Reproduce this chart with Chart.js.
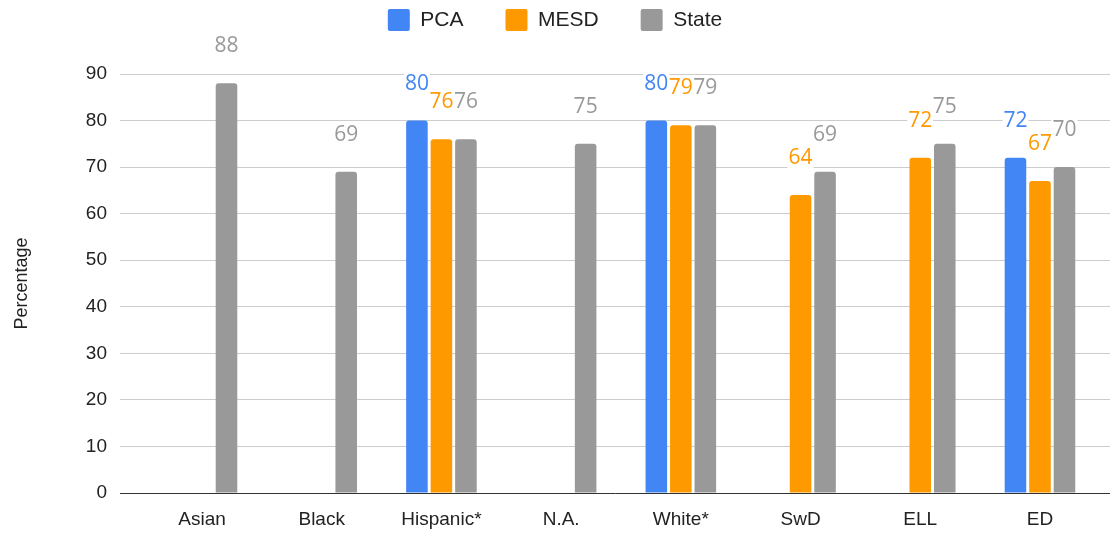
<!DOCTYPE html>
<html>
<head>
<meta charset="utf-8">
<script src="https://cdn.jsdelivr.net/npm/chart.js@4/dist/chart.umd.min.js"></script>
<style>
  html, body { margin: 0; padding: 0; background: #ffffff; }
  #wrap { width: 1110px; height: 533px; }
</style>
</head>
<body>
<div id="wrap"><canvas id="c" width="1110" height="533"></canvas></div>
<script>
// Student groups along the x axis
const categories = ['Asian', 'Black', 'Hispanic*', 'N.A.', 'White*', 'SwD', 'ELL', 'ED'];

// Percentages per group (null = not reported)
const pcaValues   = [null, null, 80, null, 80, null, null, 72];
const mesdValues  = [null, null, 76, null, 79, 64, 72, 67];
const stateValues = [88, 69, 76, 75, 79, 69, 75, 70];

// Y axis ticks
const yTicks = [0, 10, 20, 30, 40, 50, 60, 70, 80, 90];

const COLORS = { pca: '#4285f4', mesd: '#ff9900', state: '#999999' };

const toPoints = vals => vals.map((v, i) => ({ x: i, y: v }));

// Extra room between the legend and the plot area
const legendGap = {
  id: 'legendGap',
  beforeLayout(chart) {
    const lg = chart.legend;
    if (lg && !lg._gapPatched) {
      const fit = lg.fit;
      lg.fit = function () { fit.call(this); this.height += 33; };
      lg._gapPatched = true;
    }
  }
};

// Value labels above each bar, on a white backing
const valueLabels = {
  id: 'valueLabels',
  afterDatasetsDraw(chart) {
    const ctx = chart.ctx;
    ctx.save();
    ctx.font = '21px "Open Sans"';
    ctx.textAlign = 'center';
    ctx.textBaseline = 'middle';
    chart.data.datasets.forEach((ds, di) => {
      const meta = chart.getDatasetMeta(di);
      meta.data.forEach((bar, i) => {
        const v = ds.data[i].y;
        if (v === null || v === undefined) return;
        const txt = String(v);
        const x = bar.x;
        const y = bar.y - 37;
        const w = ctx.measureText(txt).width;
        ctx.fillStyle = '#ffffff';
        ctx.fillRect(x - w / 2 - 1, y - 11, w + 2, 22);
        ctx.fillStyle = ds.backgroundColor;
        ctx.fillText(txt, x, y);
      });
    });
    ctx.restore();
  }
};

new Chart(document.getElementById('c'), {
  type: 'bar',
  data: {
    datasets: [
      { label: 'PCA',   data: toPoints(pcaValues),   backgroundColor: COLORS.pca },
      { label: 'MESD',  data: toPoints(mesdValues),  backgroundColor: COLORS.mesd },
      { label: 'State', data: toPoints(stateValues), backgroundColor: COLORS.state }
    ]
  },
  options: {
    responsive: false,
    animation: false,
    devicePixelRatio: 1,
    categoryPercentage: 0.614,
    barPercentage: 0.88,
    borderRadius: { topLeft: 3, topRight: 3 },
    borderSkipped: 'bottom',
    layout: { padding: { top: -33, left: 0, right: 0, bottom: 0 } },
    plugins: {
      tooltip: { enabled: false },
      legend: {
        position: 'top',
        labels: {
          boxWidth: 22,
          boxHeight: 22,
          useBorderRadius: true,
          borderRadius: 2,
          padding: 42,
          color: '#222222',
          font: { family: 'Liberation Sans', size: 21 }
        }
      }
    },
    scales: {
      x: {
        type: 'linear',
        offset: false,
        min: -0.685,
        max: 7.585,
        afterFit: s => { s.height = 40; },
        grid: { display: false, drawTicks: false, offset: false },
        border: { display: true, color: '#333333', width: 1 },
        ticks: {
          stepSize: 1,
          includeBounds: false,
          autoSkip: false,
          maxRotation: 0,
          padding: 15,
          color: '#222222',
          font: { family: 'Liberation Sans', size: 19 },
          callback: v => Number.isInteger(v) ? categories[v] : ''
        }
      },
      y: {
        min: yTicks[0],
        max: yTicks[yTicks.length - 1],
        afterFit: s => { s.width = 120; },
        afterBuildTicks: s => { s.ticks = yTicks.map(v => ({ value: v })); },
        grid: { color: '#cccccc', lineWidth: 1, drawTicks: false },
        border: { display: false },
        ticks: {
          padding: 13,
          color: '#222222',
          font: { family: 'Liberation Sans', size: 19 }
        },
        title: {
          display: true,
          text: 'Percentage',
          color: '#222222',
          padding: { top: 11, bottom: 0 },
          font: { family: 'Liberation Sans', size: 18 }
        }
      }
    }
  },
  plugins: [legendGap, valueLabels]
});
</script>
</body>
</html>
